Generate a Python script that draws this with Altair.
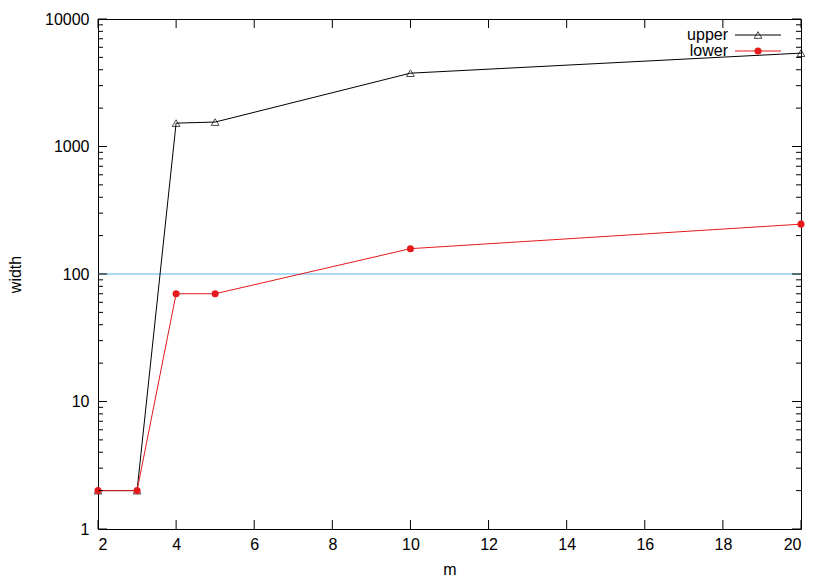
import altair as alt
import pandas as pd

m_vals = [2, 3, 4, 5, 10, 20]
upper_vals = [2, 2, 1525, 1555, 3760, 5400]
lower_vals = [2, 2, 70, 70, 158, 246]
ref_level = [100]
x_ticks = [2, 4, 6, 8, 10, 12, 14, 16, 18, 20]
y_major = [1, 10, 100, 1000, 10000]
y_minor = [k * d for d in [1, 10, 100, 1000] for k in range(2, 10)]

W, H = 703, 510
FONT = "Liberation Sans"
RED = "#e41a1c"
BLUE = "#56b4e9"

df_up = pd.DataFrame({"m": m_vals, "width": upper_vals})
df_lo = pd.DataFrame({"m": m_vals, "width": lower_vals})
df_ref = pd.DataFrame({"width": ref_level})
df_xt = pd.DataFrame({"m": x_ticks})
df_ymaj = pd.DataFrame({"width": y_major})
df_ymin = pd.DataFrame({"width": y_minor})

xs = alt.Scale(domain=[2, 20], nice=False, zero=False)
ys = alt.Scale(type="log", domain=[1, 10000], nice=False)

common = dict(ticks=False, domain=False, grid=False, labelFont=FONT, titleFont=FONT,
              labelFontSize=16, titleFontSize=16, labelColor="black", titleColor="black",
              titleFontWeight="normal")
X = alt.X("m:Q", scale=xs, axis=alt.Axis(values=x_ticks, labelPadding=7, title="m",
                                          titlePadding=9, **common))
Y = alt.Y("width:Q", scale=ys, axis=alt.Axis(values=y_major, format="d", labelPadding=9,
                                              title="width", titlePadding=21, **common))

ref = alt.Chart(df_ref).mark_rule(color=BLUE, strokeWidth=1).encode(y=Y)

up_line = alt.Chart(df_up).mark_line(color="black", strokeWidth=1).encode(x=X, y=Y)
up_pts = alt.Chart(df_up).mark_point(shape="triangle-up", color="black", filled=False, size=60,
                                     strokeWidth=1).encode(x=X, y=Y)
lo_line = alt.Chart(df_lo).mark_line(color=RED, strokeWidth=1).encode(x=X, y=Y)
lo_pts = alt.Chart(df_lo).mark_point(shape="circle", color=RED, filled=True, size=50, opacity=1).encode(x=X, y=Y)

TK = 9
TKm = 5
xt_b = alt.Chart(df_xt).mark_rule(color="black").encode(x=alt.X("m:Q", scale=xs), y=alt.value(H), y2=alt.value(H - TK))
xt_t = alt.Chart(df_xt).mark_rule(color="black").encode(x=alt.X("m:Q", scale=xs), y=alt.value(0), y2=alt.value(TK))
yt_l = alt.Chart(df_ymaj).mark_rule(color="black").encode(y=alt.Y("width:Q", scale=ys), x=alt.value(0), x2=alt.value(TK))
yt_r = alt.Chart(df_ymaj).mark_rule(color="black").encode(y=alt.Y("width:Q", scale=ys), x=alt.value(W), x2=alt.value(W - TK))
ym_l = alt.Chart(df_ymin).mark_rule(color="black").encode(y=alt.Y("width:Q", scale=ys), x=alt.value(0), x2=alt.value(TKm))
ym_r = alt.Chart(df_ymin).mark_rule(color="black").encode(y=alt.Y("width:Q", scale=ys), x=alt.value(W), x2=alt.value(W - TKm))

# legend
leg = pd.DataFrame({"name": ["upper"]})
leg2 = pd.DataFrame({"name": ["lower"]})
LX_T, LX1, LX2, LXM = 630, 637, 683, 660
LY1, LY2 = 16, 32
leg_layers = [
    alt.Chart(leg).mark_text(align="right", baseline="middle", font=FONT, fontSize=16, color="black")
    .encode(text="name:N", x=alt.value(LX_T), y=alt.value(LY1)),
    alt.Chart(leg).mark_rule(color="black").encode(x=alt.value(LX1), x2=alt.value(LX2), y=alt.value(LY1)),
    alt.Chart(leg).mark_point(shape="triangle-up", color="black", filled=False, size=60, strokeWidth=1)
    .encode(x=alt.value(LXM), y=alt.value(LY1)),
    alt.Chart(leg2).mark_text(align="right", baseline="middle", font=FONT, fontSize=16, color="black")
    .encode(text="name:N", x=alt.value(LX_T), y=alt.value(LY2)),
    alt.Chart(leg2).mark_rule(color=RED).encode(x=alt.value(LX1), x2=alt.value(LX2), y=alt.value(LY2)),
    alt.Chart(leg2).mark_point(shape="circle", color=RED, filled=True, size=50, opacity=1)
    .encode(x=alt.value(LXM), y=alt.value(LY2)),
]

chart = alt.layer(
    ref, up_line, up_pts, lo_line, lo_pts, xt_b, xt_t, yt_l, yt_r, ym_l, ym_r, *leg_layers
).properties(
    width=W, height=H,
    autosize=alt.AutoSizeParams(type="none"),
    padding={"left": 90, "top": 11, "right": 20, "bottom": 50},
    background="white",
).configure_view(
    stroke="black", strokeWidth=1
)

chart.save("out.html", embed_options={"renderer": "svg", "actions": False})
